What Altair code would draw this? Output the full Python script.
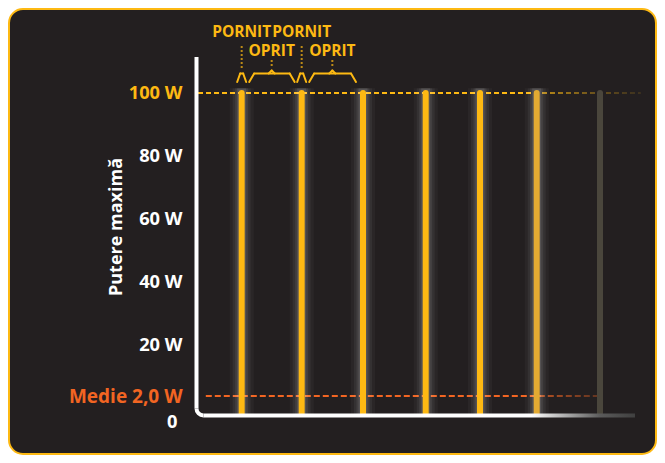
import math
import altair as alt
import pandas as pd

# ---- data ----
bar_times = [0.728, 1.728, 2.75, 3.795, 4.7, 5.645, 6.7, 7.7]
bar_peak_w = [100, 100, 100, 100, 100, 100, 100, 100]
bar_state = ["activ", "activ", "activ", "activ", "activ", "estompat", "inactiv", "ascuns"]
state_names = ["activ", "estompat", "inactiv", "ascuns"]
max_w = 100
avg_w = 2.0
max_line_span = [0.0, 7.38]
avg_line_span = [0.13, 6.65]
y_ticks = [0, 2, 20, 40, 60, 80, 100]
on_labels = ["PORNIT", "PORNIT"]
off_labels = ["OPRIT", "OPRIT"]
y_title = "Putere maximă"

# ---- styling ----
W, H = 457, 321
PX = 60.0
XMAX = W / PX
YELLOW = "#FDB913"
ORANGE = "#F26522"
BG = "#231f20"
FONT = "Open Sans"
state_colors = [YELLOW, "#E3AA32", "#4A463C", "#3b3125"]
PAD = {"left": 190, "top": 85, "right": 2, "bottom": 41}

xs = alt.Scale(domain=[0, XMAX], nice=False, zero=False)
ys = alt.Scale(domain=[0, 2, 20, 100], range=[H, H - 18, H - 69, 0], nice=False, zero=False)

yaxis = alt.Axis(
    values=y_ticks,
    labelExpr="datum.value == 0 ? '0' : (datum.value == 2 ? 'Medie 2,0 W' : datum.value + ' W')",
    domain=False, ticks=False, grid=False, zindex=2,
    labelFont=FONT, labelFontWeight="bold",
    labelFontSize={"condition": {"test": "datum.value == 2", "value": 19}, "value": 18.3},
    labelColor={"condition": [{"test": "datum.value == 100", "value": YELLOW},
                              {"test": "datum.value == 2", "value": ORANGE}],
                "value": "white"},
    labelPadding={"condition": {"test": "datum.value == 0", "value": 21}, "value": 16},
    labelOffset={"condition": {"test": "datum.value == 0", "value": 8}, "value": 0},
    labelAlign="right", labelBaseline="middle", labelOverlap=False, labelFlush=False,
    title=y_title, titleFont=FONT, titleFontSize=18, titleFontWeight="bold",
    titleColor="white", titleX=-81.5, titleY=133.5, titleAngle=270,
    titleAlign="center", titleBaseline="middle",
)

one = pd.DataFrame({"k": [0]})

bg = alt.Chart(one).mark_rect(cornerRadius=14, fill=BG, stroke=YELLOW, strokeWidth=2).encode(
    x=alt.value(-PAD["left"] + 1), x2=alt.value(W + PAD["right"] - 1),
    y=alt.value(-PAD["top"] + 1), y2=alt.value(H + PAD["bottom"] - 1))

max_df = pd.DataFrame({"x": [max_line_span[0]], "x2": [max_line_span[1]], "y": [max_w]})
max_line = alt.Chart(max_df).mark_rule(color=YELLOW, strokeWidth=2, strokeDash=[5, 3]).encode(
    x=alt.X("x:Q", scale=xs, axis=None), x2="x2",
    y=alt.Y("y:Q", scale=ys, axis=yaxis))

avg_df = pd.DataFrame({"x": [avg_line_span[0]], "x2": [avg_line_span[1]], "y": [avg_w]})
avg_line = alt.Chart(avg_df).mark_rule(color=ORANGE, strokeWidth=2, strokeDash=[6, 3]).encode(
    x=alt.X("x:Q", scale=xs, axis=None), x2="x2",
    y=alt.Y("y:Q", scale=ys, axis=yaxis))

# fade towards the right
fade_df = pd.DataFrame({"xa": [bar_times[5] + 4 / PX], "xb": [XMAX]})
fade_grad = {"gradient": "linear", "x1": 0, "y1": 0, "x2": 1, "y2": 0,
             "stops": [{"offset": 0, "color": "rgba(35,31,32,0.3)"},
                       {"offset": 0.45, "color": "rgba(35,31,32,0.65)"},
                       {"offset": 0.8, "color": "rgba(35,31,32,0.85)"},
                       {"offset": 1, "color": "rgba(35,31,32,0.93)"}]}
fade = alt.Chart(fade_df).mark_rect(color=fade_grad).encode(
    x=alt.X("xa:Q", scale=xs, axis=None), x2="xb", y=alt.value(-10), y2=alt.value(318))

bars_df = pd.DataFrame({"t": bar_times, "p": bar_peak_w, "base": [0] * len(bar_times),
                        "top": [101.5] * len(bar_times), "state": bar_state})

glows = []
for w, o in [(24, 0.035), (18, 0.05), (13, 0.07), (9, 0.1)]:
    glows.append(
        alt.Chart(bars_df).transform_filter(
            "datum.state == 'activ' || datum.state == 'estompat'"
        ).mark_rule(color="white", strokeWidth=w, opacity=o).encode(
            x=alt.X("t:Q", scale=xs, axis=None),
            y=alt.Y("base:Q", scale=ys, axis=yaxis), y2="top"))

bars = alt.Chart(bars_df).mark_rule(strokeWidth=6, strokeCap="round").encode(
    x=alt.X("t:Q", scale=xs, axis=None),
    y=alt.Y("base:Q", scale=ys, axis=yaxis), y2="p",
    color=alt.Color("state:N", scale=alt.Scale(domain=state_names, range=state_colors), legend=None))

# axis lines (white L with rounded corner, fading along the bottom)
left_line = alt.Chart(one).mark_rule(color="white", strokeWidth=4).encode(
    x=alt.value(-1.5), y=alt.value(-36), y2=alt.value(315.5))
corner = alt.Chart(one).mark_arc(color="white", theta=math.pi, theta2=1.5 * math.pi,
                                 radius=9, radius2=5).encode(x=alt.value(5.5), y=alt.value(315.5))
axis_grad = {"gradient": "linear", "x1": 0, "y1": 0, "x2": 1, "y2": 0,
             "stops": [{"offset": 0, "color": "#ffffff"},
                       {"offset": 0.76, "color": "#ffffff"},
                       {"offset": 0.92, "color": "#5a5a5a"},
                       {"offset": 1, "color": "#404040"}]}
bottom_line = alt.Chart(one).mark_rect(color=axis_grad).encode(
    x=alt.value(5.5), x2=alt.value(437), y=alt.value(320.5), y2=alt.value(324.5))

# annotations
on_x = bar_times[:2]
off_x = [(bar_times[i] + bar_times[i + 1]) / 2 for i in range(2)]
on_df = pd.DataFrame({"t": on_x, "label": on_labels})
off_df = pd.DataFrame({"t": off_x, "label": off_labels})

on_text = alt.Chart(on_df).mark_text(font=FONT, fontSize=15.5, fontWeight="bold", color=YELLOW,
                                     baseline="middle").encode(
    x=alt.X("t:Q", scale=xs, axis=None), y=alt.value(-61), text="label:N")
off_text = alt.Chart(off_df).mark_text(font=FONT, fontSize=15.5, fontWeight="bold", color=YELLOW,
                                       baseline="middle").encode(
    x=alt.X("t:Q", scale=xs, axis=None), y=alt.value(-42.5), text="label:N")

on_dots = alt.Chart(on_df).mark_rule(color=YELLOW, opacity=0.7, strokeWidth=2, strokeDash=[2, 2]).encode(
    x=alt.X("t:Q", scale=xs, axis=None), y=alt.value(-47), y2=alt.value(-25))
off_dots = alt.Chart(off_df).mark_rule(color=YELLOW, opacity=0.7, strokeWidth=2, strokeDash=[2, 2]).encode(
    x=alt.X("t:Q", scale=xs, axis=None), y=alt.value(-33), y2=alt.value(-25))

legs, tops, peaks = [], [], []
for b in on_x:
    x0, x1, x2, x3 = b - 4.5 / PX, b - 1.5 / PX, b + 1.5 / PX, b + 4.5 / PX
    legs += [(x0, x1), (x3, x2)]
    tops.append((x1, x2))
for i in range(2):
    a, b = bar_times[i], bar_times[i + 1]
    x0 = a + 7.5 / PX
    x3 = b - 7 / PX
    x1, x2 = x0 + 5 / PX, x3 - 5 / PX
    legs += [(x0, x1), (x3, x2)]
    tops.append((x1, x2))
    m = off_x[i]
    peaks += [(m - 3 / PX, m), (m + 3 / PX, m)]


def seg_layer(segs, y0, y1):
    df = pd.DataFrame(segs, columns=["xa", "xb"])
    return alt.Chart(df).mark_rule(color=YELLOW, strokeWidth=2, strokeCap="round").encode(
        x=alt.X("xa:Q", scale=xs, axis=None), x2="xb", y=alt.value(y0), y2=alt.value(y1))


brace_legs = seg_layer(legs, -11, -19.5)
brace_tops = seg_layer(tops, -19.5, -19.5)
brace_peaks = seg_layer(peaks, -19.5, -22.5)

chart = alt.layer(
    bg, max_line, avg_line, fade, *glows, bars, left_line, corner, bottom_line,
    on_dots, off_dots, brace_legs, brace_tops, brace_peaks, on_text, off_text,
).properties(
    width=W, height=H,
    autosize=alt.AutoSizeParams(type="none"),
    padding=PAD,
    background="white",
).configure_view(stroke=None)

chart.save("out.html", embed_options={"renderer": "svg", "actions": False})
